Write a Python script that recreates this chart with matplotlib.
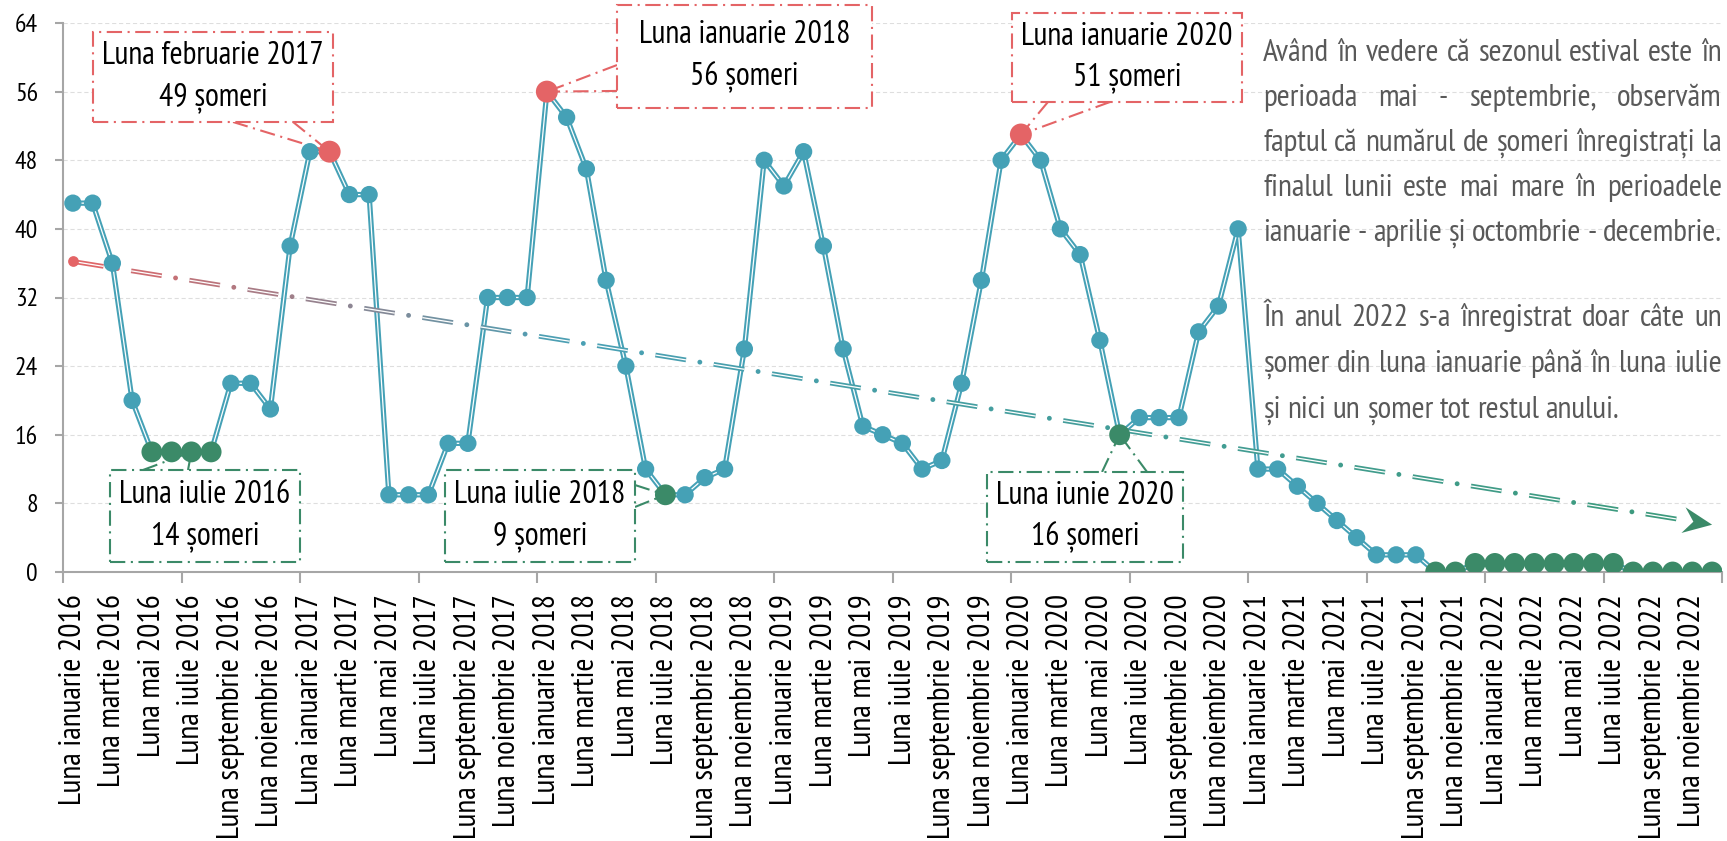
import numpy as np
import matplotlib
matplotlib.use('Agg')
import matplotlib.pyplot as plt
from matplotlib import font_manager
from matplotlib.collections import LineCollection
from matplotlib.patches import Rectangle, Polygon
from matplotlib.transforms import IdentityTransform
from matplotlib.colors import to_rgb

luni = ['ianuarie', 'februarie', 'martie', 'aprilie', 'mai', 'iunie',
        'iulie', 'august', 'septembrie', 'octombrie', 'noiembrie', 'decembrie']
ani = [2016, 2017, 2018, 2019, 2020, 2021, 2022]
categorii = ['Luna %s %d' % (l, a) for a in ani for l in luni]

someri = [43, 43, 36, 20, 14, 14, 14, 14, 22, 22, 19, 38,
          49, 49, 44, 44, 9, 9, 9, 15, 15, 32, 32, 32,
          56, 53, 47, 34, 24, 12, 9, 9, 11, 12, 26, 48,
          45, 49, 38, 26, 17, 16, 15, 12, 13, 22, 34, 48,
          51, 48, 40, 37, 27, 16, 18, 18, 18, 28, 31, 40,
          12, 12, 10, 8, 6, 4, 2, 2, 2, 0, 0, 1,
          1, 1, 1, 1, 1, 1, 1, 0, 0, 0, 0, 0]

maxime = ['Luna februarie 2017', 'Luna ianuarie 2018', 'Luna ianuarie 2020']
minime = ['Luna mai 2016', 'Luna iunie 2016', 'Luna iulie 2016', 'Luna august 2016',
          'Luna iulie 2018', 'Luna iunie 2020'] + categorii[categorii.index('Luna octombrie 2021'):]

etichete = ['Luna februarie 2017', 'Luna ianuarie 2018', 'Luna ianuarie 2020',
            'Luna iulie 2016', 'Luna iulie 2018', 'Luna iunie 2020']

paragraf1 = ['Având în vedere că sezonul estival este în',
             'perioada mai - septembrie, observăm',
             'faptul că numărul de șomeri înregistrați la',
             'finalul lunii este mai mare în perioadele',
             'ianuarie - aprilie și octombrie -  decembrie.']
paragraf2 = ['În anul 2022 s-a înregistrat doar câte un',
             'șomer din luna ianuarie până în luna iulie',
             'și nici un șomer tot restul anului.']

# colours
TEAL = '#45a1b6'
RED = '#e46466'
GREEN = '#3b8a68'
AXIS = '#a6a6a6'

# callout boxes (left, bottom, right, top) in data units + pointer base points
casete = {
    'Luna februarie 2017': ((1.02, 52.46, 13.17, 62.95), [(8.11, 52.46), (11.15, 52.46)]),
    'Luna ianuarie 2018': ((27.55, 54.09, 40.46, 66.1), [(27.55, 59.1), (27.55, 56.08)]),
    'Luna ianuarie 2020': ((47.55, 54.79, 59.2, 65.17), [(49.37, 54.79), (52.51, 54.79)]),
    'Luna iulie 2016': ((1.88, 1.17, 11.5, 11.89), [(3.55, 11.89), (5.83, 11.89)]),
    'Luna iulie 2018': ((18.84, 1.17, 28.46, 11.89), [(28.46, 10.14), (28.46, 7.58)]),
    'Luna iunie 2020': ((46.28, 1.17, 56.21, 11.66), [(52.11, 11.66), (54.39, 11.66)]),
}


def pick_font(cands):
    names = {f.name for f in font_manager.fontManager.ttflist}
    for c in cands:
        if c in names:
            return c
    return 'DejaVu Sans'


fam = pick_font(['PT Sans Narrow', 'Liberation Sans Narrow', 'Roboto Condensed',
                 'Open Sans Condensed', 'Arial Narrow'])
FONT = dict(family=fam, stretch='condensed')

plt.rcParams['lines.scale_dashes'] = False

W, H = 1727, 841
fig = plt.figure(figsize=(W / 100, H / 100), dpi=100)
ax = fig.add_axes([63 / W, (H - 572) / H, (1722 - 63) / W, (572 - 23) / H])
renderer = fig.canvas.get_renderer()


def text_width(s, size):
    t = fig.text(0, 0, s, fontsize=size, **FONT)
    w = t.get_window_extent(renderer).width
    t.remove()
    return w


def fit_size(s, target):
    return 20 * target / text_width(s, 20)


fs_box = fit_size('Luna februarie 2017', 222)
fs_xt = fit_size('Luna ianuarie 2016', 210)
fs_yt = fit_size('64', 23)
fs_txt = fit_size(paragraf2[-1], 357)

n = len(categorii)
x = np.arange(n)
ax.set_xlim(-0.5, n - 0.5)
ax.set_ylim(0, 64)

# axes styling
for s in ['top', 'right']:
    ax.spines[s].set_visible(False)
for s in ['left', 'bottom']:
    ax.spines[s].set_color(AXIS)
    ax.spines[s].set_linewidth(1.5)
ax.set_yticks(np.arange(0, 65, 8))
ax.set_yticklabels([str(v) for v in range(0, 65, 8)], fontsize=fs_yt, **FONT)
ax.set_xticks(np.arange(-0.5, n, 6))
ax.set_xticklabels([])
ax.set_xticks(x[::2], minor=True)
ax.set_xticklabels(categorii[::2], minor=True, rotation=90, fontsize=fs_xt, **FONT)
ax.tick_params(axis='x', which='major', length=8, width=1.5, color=AXIS)
ax.tick_params(axis='x', which='minor', length=0, pad=16)
ax.tick_params(axis='y', length=6, width=1.5, color=AXIS, pad=12)
ax.grid(axis='y', color='#dedede', linestyle=(0, (3, 2)), lw=0.8)
ax.set_axisbelow(True)

# main series: compound line (teal with white core)
ax.plot(x, someri, color=TEAL, lw=3.8, zorder=3, solid_joinstyle='round')
ax.plot(x, someri, color='white', lw=0.9, zorder=3.1)
culori, marimi = [], []
for c in categorii:
    if c in maxime:
        culori.append(RED); marimi.append(250)
    elif c in minime:
        culori.append(GREEN); marimi.append(225)
    else:
        culori.append(TEAL); marimi.append(155)
ax.scatter(x, someri, s=marimi, c=culori, linewidths=0, zorder=4)

# linear trend, drawn as dash-dot with colour gradient
a, b = np.polyfit(x, someri, 1)
p0 = ax.transData.transform((x[0], a * x[0] + b))
p1 = ax.transData.transform((x[-1], a * x[-1] + b))
L = np.hypot(*(p1 - p0))
u = (p1 - p0) / L
nrm = np.array([-u[1], u[0]])
stops = [(0.0, RED), (0.3, '#4aa0b5'), (1.0, '#3c9a7a')]


def grad(t):
    for (t0, c0), (t1, c1) in zip(stops[:-1], stops[1:]):
        if t <= t1:
            f = (t - t0) / (t1 - t0)
            return tuple(np.array(to_rgb(c0)) * (1 - f) + np.array(to_rgb(c1)) * f)
    return to_rgb(stops[-1][1])


dash, gap, period = 31, 14, 59
segs, cols, dots, dcols = [], [], [], []
s = 0
while s < L - 30:
    e = min(s + dash, L - 26)
    segs.append([p0 + u * s, p0 + u * e])
    cols.append(grad((s + e) / 2 / L))
    d = s + dash + gap
    if d < L - 28:
        dots.append(p0 + u * d)
        dcols.append(grad(d / L))
    s += period
lc = LineCollection(segs, colors=cols, linewidths=3.4, transform=IdentityTransform(), zorder=3.5)
ax.add_collection(lc, autolim=False)
lc2 = LineCollection(segs, colors='white', linewidths=0.9, transform=IdentityTransform(), zorder=3.6)
ax.add_collection(lc2, autolim=False)
dots = np.array(dots)
ax.scatter(dots[:, 0], dots[:, 1], s=12, c=dcols, linewidths=0, transform=IdentityTransform(), zorder=3.6)
ax.scatter([p0[0]], [p0[1]], s=60, c=RED, linewidths=0, transform=IdentityTransform(), zorder=3.7)
tip = p1
head = [tip, tip - u * 29 + nrm * 13, tip - u * 19, tip - u * 29 - nrm * 13]
ax.add_patch(Polygon(head, closed=True, facecolor=GREEN, edgecolor='none',
                     transform=IdentityTransform(), zorder=3.7))

# callouts
ls_box = (0, (11, 4, 1.5, 4))
for c in etichete:
    i = categorii.index(c)
    col = RED if c in maxime else GREEN
    (l, bt, r, tp), baza = casete[c]
    ax.add_patch(Rectangle((l, bt), r - l, tp - bt, facecolor='white', edgecolor=col,
                           lw=1.5, linestyle=ls_box, zorder=5, clip_on=False))
    for bx, by in baza:
        ax.plot([bx, i], [by, someri[i]], color=col, lw=1.5, linestyle=ls_box,
                zorder=3.8, clip_on=False)
    ax.text((l + r) / 2, (bt + tp) / 2, '%s\n%d șomeri' % (c, someri[i]),
            ha='center', va='center', fontsize=fs_box, linespacing=1.45,
            color='black', zorder=6, clip_on=False, **FONT)


# justified side text
def write_line(line, y, justify=True):
    x0, x1 = 1263, 1722
    words = line.split()
    ws = [text_width(w, fs_txt) for w in words]
    if justify and len(words) > 1:
        g = (x1 - x0 - sum(ws)) / (len(words) - 1)
    else:
        g = text_width('a a', fs_txt) - text_width('aa', fs_txt)
    xx = x0
    for w, wd in zip(words, ws):
        fig.text(xx / W, 1 - y / H, w, ha='left', va='baseline', fontsize=fs_txt,
                 color='#595959', **FONT)
        xx += wd + g


for k, line in enumerate(paragraf1):
    write_line(line, 61 + 45 * k)
for k, line in enumerate(paragraf2):
    write_line(line, 326 + 46 * k, justify=(k < len(paragraf2) - 1))

fig.savefig('out.png', dpi=100)
